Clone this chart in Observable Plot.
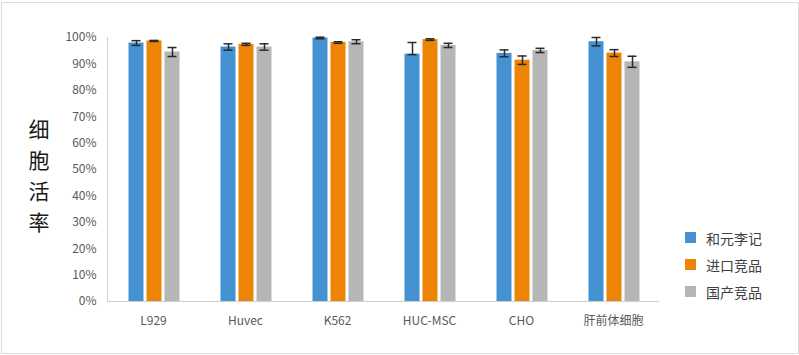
<!DOCTYPE html>
<html>
<head>
<meta charset="utf-8">
<script src="https://cdn.jsdelivr.net/npm/d3@7"></script>
<script src="https://cdn.jsdelivr.net/npm/@observablehq/plot@0.6"></script>
<style>
  html, body { margin: 0; padding: 0; background: #fff; }
  #wrap { position: relative; width: 799px; height: 355px; overflow: hidden; font-family: "Noto Sans CJK SC", "Noto Sans", sans-serif; }
  #border { position: absolute; left: 1px; top: 2px; width: 796px; height: 350px; border: 1px solid #dcdcdc; pointer-events: none; }
  #legend { position: absolute; left: 685px; top: 224px; }
  .item { display: flex; align-items: center; height: 27px; font-size: 14px; color: #404040; }
  .sw { width: 11px; height: 11px; margin-right: 10px; }
  #ytitle { position: absolute; left: 26px; top: 113px; width: 26px; text-align: center; font-size: 21px; color: #1a1a1a; }
  #ytitle span { display: block; height: 31px; line-height: 31px; }
</style>
</head>
<body>
<div id="wrap"><div id="border"></div><div id="ytitle"></div><div id="legend"></div></div>
<script>
const categories = ["L929", "Huvec", "K562", "HUC-MSC", "CHO", "肝前体细胞"];
const series = ["和元李记", "进口竞品", "国产竞品"];
const colors = ["#4592d3", "#ee8405", "#b6b6b6"];
const yTicks = [0, 0.1, 0.2, 0.3, 0.4, 0.5, 0.6, 0.7, 0.8, 0.9, 1.0];
const yTitle = "细胞活率";

// values in %
const heyuan = [97.9, 96.4, 99.8, 93.7, 94.0, 98.4];
const imported = [98.7, 97.4, 98.1, 99.2, 91.4, 94.1];
const domestic = [94.5, 96.4, 98.4, 97.0, 95.1, 90.8];

// error bars (minus / plus), in %
const heyuanErrMinus = [0.9, 1.2, 0.3, 0.2, 1.3, 1.6];
const heyuanErrPlus = [0.9, 1.2, 0.3, 4.4, 1.3, 1.6];
const importedErrMinus = [0.2, 0.4, 0.3, 0.3, 1.6, 1.3];
const importedErrPlus = [0.2, 0.4, 0.3, 0.3, 1.6, 1.3];
const domesticErrMinus = [1.7, 1.2, 0.75, 0.8, 0.8, 2.1];
const domesticErrPlus = [1.7, 1.2, 0.75, 0.8, 0.8, 2.1];

const seriesValues = [heyuan, imported, domestic];
const seriesMinus = [heyuanErrMinus, importedErrMinus, domesticErrMinus];
const seriesPlus = [heyuanErrPlus, importedErrPlus, domesticErrPlus];

const data = [];
series.forEach((s, i) => {
  categories.forEach((c, j) => {
    const v = seriesValues[i][j];
    data.push({
      cat: c, series: s, idx: i,
      value: v / 100,
      lo: (v - seriesMinus[i][j]) / 100,
      hi: (v + seriesPlus[i][j]) / 100
    });
  });
});

const step = 18;     // bar pitch within a group
const half = 7.5;    // half bar width
const cap = 4.5;     // half cap width
const bandW = 92;

const marks = [];
series.forEach((s, i) => {
  const d = data.filter(r => r.idx === i);
  const dx = (i - 1) * step + 1;
  marks.push(Plot.barY(d, {x: "cat", y: "value", fill: "series", dx, insetLeft: bandW / 2 - half, insetRight: bandW / 2 - half}));
});
series.forEach((s, i) => {
  const d = data.filter(r => r.idx === i);
  const dx = (i - 1) * step + 1;
  marks.push(Plot.ruleX(d, {x: "cat", y1: "lo", y2: "hi", dx, stroke: "#2a2a2a", strokeWidth: 1.5}));
  marks.push(Plot.tickY(d, {x: "cat", y: "lo", dx, stroke: "#2a2a2a", strokeWidth: 1.5, insetLeft: bandW / 2 - cap, insetRight: bandW / 2 - cap}));
  marks.push(Plot.tickY(d, {x: "cat", y: "hi", dx, stroke: "#2a2a2a", strokeWidth: 1.5, insetLeft: bandW / 2 - cap, insetRight: bandW / 2 - cap}));
});
marks.push(Plot.ruleY([0], {stroke: "#d0d0d0"}));
marks.push(Plot.frame({anchor: "left", stroke: "#d0d0d0"}));

const chart = Plot.plot({
  width: 799,
  height: 355,
  marginLeft: 107,
  marginRight: 140,
  marginTop: 37,
  marginBottom: 54,
  style: {fontFamily: "'Noto Sans CJK SC', 'Noto Sans', sans-serif", fontSize: "12px", color: "#595959", background: "transparent"},
  x: {domain: categories, padding: 0, label: null, tickSize: 0, tickPadding: 15},
  y: {domain: [0, 1], ticks: yTicks, tickFormat: d3.format(".0%"), label: null, tickSize: 0, tickPadding: 11},
  color: {domain: series, range: colors},
  marks
});
document.getElementById("wrap").prepend(chart);

const yt = document.getElementById("ytitle");
for (const ch of yTitle) {
  const sp = document.createElement("span");
  sp.textContent = ch;
  yt.append(sp);
}

const legend = document.getElementById("legend");
series.forEach((s, i) => {
  const item = document.createElement("div");
  item.className = "item";
  const sw = document.createElement("span");
  sw.className = "sw";
  sw.style.background = colors[i];
  const t = document.createElement("span");
  t.textContent = s;
  item.append(sw, t);
  legend.append(item);
});
</script>
</body>
</html>
